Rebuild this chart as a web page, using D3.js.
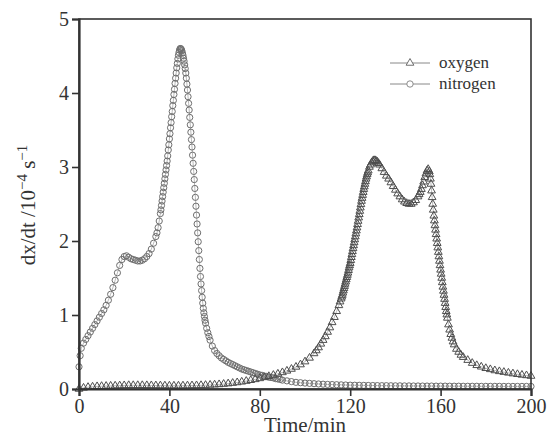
<!DOCTYPE html>
<html><head><meta charset="utf-8">
<script src="https://cdn.jsdelivr.net/npm/d3@7"></script>
<style>body{margin:0;background:#fff} text{font-family:"Liberation Serif","Times New Roman",serif}</style>
</head><body><svg id="c" width="547" height="438"></svg>
<script>
const xTicks=[0,40,80,120,160,200];
const yTicks=[0,1,2,3,4,5];
const seriesNames=["oxygen","nitrogen"];

// [time (min), dx/dt (10^-4 s^-1)]
const oxygen=[[0,0.0],[2,0.015],[4,0.025],[6,0.03],[8,0.035],[10,0.038],[12,0.04],[14,0.042],[16,0.044],[18,0.046],[20,0.048],[22,0.05],[24,0.05],[26,0.05],[28,0.05],[30,0.049],[32,0.048],[34,0.047],[36,0.046],[38,0.045],[40,0.044],[42,0.044],[44,0.044],[46,0.045],[48,0.046],[50,0.047],[52,0.048],[54,0.05],[56,0.052],[58,0.055],[60,0.058],[62,0.062],[64,0.067],[66,0.073],[68,0.08],[70,0.088],[72,0.097],[74,0.107],[76,0.118],[78,0.13],[80,0.143],[82,0.157],[84,0.172],[86,0.188],[88,0.205],[90,0.224],[92,0.245],[94,0.27],[96,0.298],[98,0.33],[100,0.37],[102,0.42],[104,0.48],[105,0.52],[106,0.56],[107,0.61],[108,0.66],[109,0.71],[110,0.77],[111,0.83],[112,0.90],[113,0.97],[114,1.05],[115,1.13],[115.5,1.18],[116,1.22],[116.5,1.27],[117,1.33],[117.5,1.39],[118,1.45],[118.5,1.51],[119,1.57],[119.5,1.64],[120,1.70],[120.5,1.78],[121,1.86],[121.5,1.94],[122,2.02],[122.5,2.10],[123,2.18],[123.5,2.27],[124,2.36],[124.5,2.45],[125,2.54],[125.5,2.62],[126,2.70],[126.5,2.77],[127,2.84],[127.5,2.90],[128,2.95],[128.5,3.00],[129,3.03],[129.5,3.06],[130,3.08],[130.5,3.09],[131,3.09],[131.5,3.08],[132,3.07],[132.5,3.05],[133,3.03],[134,2.98],[135,2.93],[136,2.88],[137,2.84],[138,2.79],[139,2.74],[140,2.69],[141,2.64],[142,2.60],[143,2.56],[144,2.53],[145,2.51],[146,2.50],[147,2.50],[148,2.52],[149,2.55],[150,2.60],[150.5,2.63],[151,2.66],[151.5,2.70],[152,2.75],[152.5,2.80],[153,2.86],[153.5,2.91],[154,2.95],[154.5,2.97],[155,2.94],[155.5,2.84],[156,2.68],[156.5,2.50],[157,2.34],[157.5,2.21],[158,2.09],[158.5,1.97],[159,1.85],[159.5,1.73],[160,1.61],[160.5,1.50],[161,1.38],[161.5,1.27],[162,1.16],[162.5,1.05],[163,0.96],[163.5,0.87],[164,0.80],[164.5,0.74],[165,0.69],[165.5,0.64],[166,0.60],[167,0.54],[168,0.50],[169,0.46],[170,0.43],[172,0.39],[174,0.35],[176,0.32],[178,0.30],[180,0.28],[182,0.265],[184,0.25],[186,0.238],[188,0.228],[190,0.218],[192,0.208],[194,0.199],[196,0.19],[198,0.183],[200,0.175]];
// extra readings on the steep flanks of the oxygen curve
const oxygenSteep=[[116.25,1.245],[116.75,1.30],[117.25,1.36],[117.75,1.42],[118.25,1.48],[118.75,1.54],[119.25,1.605],[119.75,1.67],[120.25,1.74],[120.75,1.82],[121.25,1.90],[121.75,1.98],[122.25,2.06],[122.75,2.14],[123.25,2.225],[123.75,2.315],[124.25,2.405],[124.75,2.495],[125.25,2.58],[125.75,2.66],[126.25,2.735],[126.75,2.805],[127.25,2.87],[127.75,2.925],[155.25,2.90],[155.75,2.77],[156.25,2.59],[156.75,2.42],[157.25,2.275],[157.75,2.15],[158.25,2.03],[158.75,1.91],[159.25,1.79],[159.75,1.67],[160.25,1.555],[160.75,1.44],[161.25,1.325],[161.75,1.215],[162.25,1.105],[162.75,1.005]];

const nitrogen=[[0,0.30],[0.5,0.45],[1,0.55],[2,0.62],[3,0.67],[4,0.72],[5,0.77],[6,0.82],[7,0.87],[8,0.92],[9,0.97],[10,1.02],[11,1.07],[12,1.13],[13,1.20],[14,1.28],[15,1.37],[16,1.47],[17,1.57],[18,1.67],[19,1.75],[20,1.79],[21,1.80],[22,1.78],[23,1.76],[24,1.75],[25,1.74],[26,1.73],[27,1.73],[28,1.74],[29,1.76],[30,1.79],[31,1.83],[32,1.89],[33,1.97],[34,2.06],[34.5,2.11],[35,2.18],[35.5,2.27],[36,2.37],[36.25,2.42],[36.5,2.48],[36.75,2.54],[37,2.60],[37.25,2.66],[37.5,2.72],[37.75,2.78],[38,2.84],[38.25,2.90],[38.5,2.96],[38.75,3.02],[39,3.08],[39.25,3.15],[39.5,3.23],[39.75,3.30],[40,3.38],[40.25,3.45],[40.5,3.53],[40.75,3.60],[41,3.68],[41.25,3.75],[41.5,3.83],[41.75,3.90],[42,3.98],[42.25,4.05],[42.5,4.13],[42.75,4.20],[43,4.27],[43.25,4.34],[43.5,4.40],[43.75,4.46],[44,4.51],[44.25,4.55],[44.5,4.58],[44.75,4.60],[45,4.60],[45.25,4.59],[45.5,4.57],[45.75,4.54],[46,4.51],[46.25,4.47],[46.5,4.43],[46.75,4.38],[47,4.33],[47.25,4.27],[47.5,4.20],[47.75,4.12],[48,4.04],[48.25,3.95],[48.5,3.86],[48.75,3.77],[49,3.67],[49.25,3.57],[49.5,3.47],[49.75,3.37],[50,3.27],[50.25,3.16],[50.5,3.05],[50.75,2.94],[51,2.83],[51.25,2.71],[51.5,2.59],[51.75,2.47],[52,2.35],[52.25,2.23],[52.5,2.11],[52.75,1.99],[53,1.87],[53.25,1.75],[53.5,1.63],[53.75,1.52],[54,1.42],[54.25,1.33],[54.5,1.24],[54.75,1.16],[55,1.09],[55.25,1.03],[55.5,0.98],[55.75,0.93],[56,0.89],[56.5,0.82],[57,0.76],[57.5,0.71],[58,0.66],[59,0.58],[60,0.52],[61,0.48],[62,0.45],[63,0.42],[64,0.40],[65,0.38],[66,0.36],[67,0.345],[68,0.33],[69,0.315],[70,0.30],[71,0.285],[72,0.27],[73,0.26],[74,0.25],[75,0.24],[76,0.23],[77,0.22],[78,0.21],[79,0.20],[80,0.19],[81,0.185],[82,0.175],[83,0.17],[84,0.16],[85,0.155],[86,0.15],[87,0.14],[88,0.135],[89,0.13],[90,0.12],[92,0.11],[94,0.10],[96,0.09],[98,0.085],[100,0.08],[102,0.076],[104,0.072],[106,0.068],[108,0.065],[110,0.062],[112,0.06],[114,0.058],[116,0.056],[118,0.054],[120,0.052],[122,0.051],[124,0.05],[126,0.049],[128,0.048],[130,0.047],[132,0.046],[134,0.045],[136,0.045],[138,0.044],[140,0.043],[142,0.043],[144,0.042],[146,0.042],[148,0.041],[150,0.041],[152,0.04],[154,0.04],[156,0.04],[158,0.039],[160,0.039],[162,0.039],[164,0.038],[166,0.038],[168,0.038],[170,0.037],[172,0.037],[174,0.037],[176,0.037],[178,0.036],[180,0.036],[182,0.036],[184,0.036],[186,0.036],[188,0.035],[190,0.035],[192,0.035],[194,0.035],[196,0.035],[198,0.035],[200,0.035]];

const W=547,H=438,m={l:79,r:16,t:19,b:49};
const svg=d3.select("#c");
const x=d3.scaleLinear().domain([0,200]).range([m.l,W-m.r]);
const y=d3.scaleLinear().domain([0,5]).range([H-m.b,m.t]);

const oxygenAll=oxygen.concat(oxygenSteep).sort((a,b)=>a[0]-b[0]);

const tri=d3.symbol().type(d3.symbolTriangle).size(26);
const lineGen=d3.line().x(d=>x(d[0])).y(d=>y(d[1]));

function drawSeries(data,kind,color){
  svg.append("path").attr("d",lineGen(data)).attr("fill","none").attr("stroke","#999").attr("stroke-width",0.7);
  const g=svg.append("g");
  if(kind==="tri"){
    g.selectAll("path").data(data).join("path").attr("d",tri)
      .attr("transform",d=>`translate(${x(d[0])},${y(d[1])})`)
      .attr("fill","none").attr("stroke",color).attr("stroke-width",1);
  } else {
    g.selectAll("circle").data(data).join("circle")
      .attr("cx",d=>x(d[0])).attr("cy",d=>y(d[1])).attr("r",3.1)
      .attr("fill","none").attr("stroke",color).attr("stroke-width",1);
  }
}
drawSeries(nitrogen,"circ","#6e6e6e");
drawSeries(oxygenAll,"tri","#4e4e4e");

// frame
svg.append("rect").attr("x",x(0)).attr("y",y(5)).attr("width",x(200)-x(0)).attr("height",y(0)-y(5))
  .attr("fill","none").attr("stroke","#333").attr("stroke-width",1.6);

const xa=svg.append("g").attr("transform",`translate(0,${y(0)})`)
  .call(d3.axisBottom(x).tickValues(xTicks).tickSize(7).tickPadding(3));
const ya=svg.append("g").attr("transform",`translate(${x(0)},0)`)
  .call(d3.axisLeft(y).tickValues(yTicks).tickSize(7).tickPadding(3).tickFormat(d3.format("d")));
[xa,ya].forEach(a=>{
  a.select(".domain").attr("stroke","#333").attr("stroke-width",2.2);
  a.selectAll(".tick line").attr("stroke","#333").attr("stroke-width",1.6);
  a.selectAll(".tick text").attr("font-size",20).attr("fill","#333").attr("font-family","Liberation Serif");
});

svg.append("text").attr("x",(x(0)+x(200))/2).attr("y",432).attr("text-anchor","middle")
  .attr("font-size",21).attr("fill","#333").text("Time/min");
const yt=svg.append("text").attr("transform","translate(35,205) rotate(-90)").attr("text-anchor","middle")
  .attr("font-size",21).attr("fill","#333");
yt.append("tspan").text("dx/dt /10");
yt.append("tspan").attr("font-size",15).attr("dy",-8).text("\u22124");
yt.append("tspan").attr("dy",8).text(" s");
yt.append("tspan").attr("font-size",15).attr("dy",-8).text("\u22121");

const legY=[63,84];
seriesNames.forEach((name,i)=>{
  const yy=legY[i];
  svg.append("line").attr("x1",390).attr("x2",430).attr("y1",yy).attr("y2",yy).attr("stroke","#888").attr("stroke-width",1);
  if(i===0){
    svg.append("path").attr("d",tri).attr("transform",`translate(410,${yy})`).attr("fill","#fff").attr("stroke","#606060").attr("stroke-width",0.9);
  } else {
    svg.append("circle").attr("cx",410).attr("cy",yy).attr("r",3.2).attr("fill","#fff").attr("stroke","#808080").attr("stroke-width",0.9);
  }
  svg.append("text").attr("x",439).attr("y",yy).attr("dy","0.32em").attr("font-size",17).attr("fill","#333").text(name);
});
</script></body></html>
